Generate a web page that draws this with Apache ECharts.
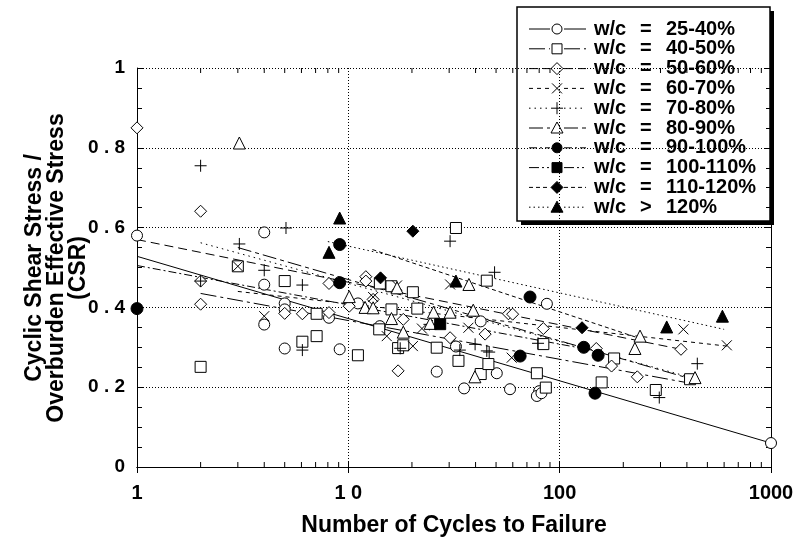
<!DOCTYPE html>
<html>
<head>
<meta charset="utf-8">
<script src="https://cdn.jsdelivr.net/npm/echarts@6/dist/echarts.min.js"></script>
<style>
html, body { margin: 0; padding: 0; background: #fff; }
#chart { width: 803px; height: 542px; }
</style>
</head>
<body>
<div id="chart"></div>
<script>
// tick labels
const xTicks = [1, 10, 100, 1000]
const xTickLabels = ['1', '1 0', '100', '1000']
const xMinorTicks = [2, 3, 4, 5, 6, 7, 8, 9, 20, 30, 40, 50, 60, 70, 80, 90, 200, 300, 400, 500, 600, 700, 800, 900]
const yTickLabels = ['0', '0 . 2', '0 . 4', '0 . 6', '0 . 8', '1']

// legend labels
const wcRanges = ['25-40%', '40-50%', '50-60%', '60-70%', '70-80%', '80-90%', '90-100%', '100-110%', '110-120%', '120%']

// [cycles, CSR]
const wc25 = [[1, 0.58], [4, 0.588], [4, 0.457], [4, 0.357], [5, 0.41], [5, 0.395], [5, 0.297], [8.1, 0.374], [9.1, 0.295],
  [11.1, 0.41], [14.1, 0.353], [26.2, 0.239], [32.3, 0.302], [35.3, 0.197], [42.3, 0.365], [50.4, 0.235], [58.2, 0.195],
  [80, 0.19], [78, 0.178], [82, 0.185], [87, 0.409], [1000, 0.06]]
const wc40 = [[2, 0.251], [3, 0.503], [5, 0.466], [6.06, 0.314], [7.08, 0.328], [7.08, 0.384], [11.1, 0.28], [14.1, 0.46],
  [14, 0.345], [16, 0.453], [16, 0.395], [17.2, 0.298], [18.2, 0.305], [20.2, 0.438], [21.2, 0.397], [26.2, 0.299],
  [32.3, 0.599], [33.2, 0.266], [42.3, 0.233], [45.2, 0.467], [46, 0.258], [78, 0.235], [83.7, 0.308], [86, 0.199],
  [158, 0.212], [181, 0.272], [285, 0.193], [414, 0.22]]
const wc50 = [[1, 0.85], [2, 0.641], [2, 0.466], [2, 0.408], [5, 0.385], [6.06, 0.384], [8.1, 0.387], [8.1, 0.46], [10.1, 0.403],
  [12.1, 0.477], [12.1, 0.466], [13.1, 0.42], [17.2, 0.241], [18.2, 0.37], [30.3, 0.324], [44.4, 0.333], [57.2, 0.384],
  [59.9, 0.383], [83.7, 0.347], [149, 0.297], [176, 0.253], [233, 0.226], [375, 0.295]]
const wc60 = [[3, 0.503], [4, 0.378], [13.1, 0.426], [15.2, 0.328], [17, 0.455], [20.2, 0.303], [22.3, 0.347], [30.3, 0.4575],
  [37, 0.349], [59.3, 0.274], [385, 0.345], [618, 0.305]]
const wc70 = [[2, 0.755], [2, 0.466], [3.05, 0.559], [4, 0.493], [5.07, 0.599], [6.06, 0.456], [6.06, 0.293], [17.6, 0.2975],
  [24.2, 0.3575], [30.3, 0.566], [33.7, 0.293], [39.8, 0.3075], [45.2, 0.291], [46.4, 0.288], [49.2, 0.488], [79, 0.31],
  [296, 0.174], [448, 0.259]]
const wc80 = [[3.05, 0.812], [10.1, 0.427], [12, 0.4], [13.1, 0.399], [16, 0.372], [17, 0.449], [18.2, 0.338], [24.4, 0.36],
  [25.3, 0.388], [30.3, 0.388], [37.2, 0.4575], [39, 0.393], [39.7, 0.226], [227, 0.297], [240, 0.328], [437, 0.224]]
const wc90 = [[1, 0.397], [9.1, 0.5575], [9.1, 0.462], [65, 0.278], [72.4, 0.426], [130, 0.3], [152, 0.28], [147, 0.185]]
const wc100 = [[27.2, 0.358]]
const wc110 = [[14.2, 0.474], [20.2, 0.591], [127.6, 0.349]]
const wc120 = [[8.1, 0.538], [9.1, 0.624], [32.3, 0.466], [321, 0.351], [589, 0.378]]

// trend lines, end points
const fit25 = [[1, 0.528], [1000, 0.06]]
const fit40 = [[2, 0.435], [414, 0.21]]
const fit50 = [[1, 0.57], [375, 0.295]]
const fit60 = [[3, 0.44], [618, 0.303]]
const fit70 = [[2, 0.562], [448, 0.22]]
const fit80 = [[3, 0.55], [437, 0.218]]
const fit90 = [[1, 0.505], [152, 0.29]]
const fit110 = [[13, 0.545], [240, 0.322]]
const fit120 = [[8, 0.565], [600, 0.345]]

const FONT = '"Liberation Sans", Arial, Helvetica, sans-serif'
const CROSS = 'path://M0,0L10,10M10,0L0,10'
const PLUS = 'path://M5,0L5,10M0,5L10,5'

const groups = [
  { data: wc25, fit: fit25, symbol: 'circle', filled: false, size: 11, dash: 'solid' },
  { data: wc40, fit: fit40, symbol: 'rect', filled: false, size: 11, dash: [16, 4, 3, 4] },
  { data: wc50, fit: fit50, symbol: 'diamond', filled: false, size: 12, dash: [9, 5] },
  { data: wc60, fit: fit60, symbol: CROSS, filled: false, size: 10, dash: [4, 4] },
  { data: wc70, fit: fit70, symbol: PLUS, filled: false, size: 12, dash: [1.5, 4] },
  { data: wc80, fit: fit80, symbol: 'triangle', filled: false, size: 12, dash: [14, 4, 4, 4] },
  { data: wc90, fit: fit90, symbol: 'circle', filled: true, size: 12, dash: [8, 3, 2, 3] },
  { data: wc100, fit: null, symbol: 'rect', filled: true, size: 11, dash: [10, 3, 2, 3, 2, 3] },
  { data: wc110, fit: fit110, symbol: 'diamond', filled: true, size: 12, dash: [4, 3] },
  { data: wc120, fit: fit120, symbol: 'triangle', filled: true, size: 12, dash: [1.5, 3] }
]

const chart = echarts.init(document.getElementById('chart'))

const series = []
groups.forEach((g, i) => {
  if (g.fit) {
    series.push({
      type: 'line',
      data: g.fit,
      symbol: 'none',
      silent: true,
      z: 2,
      lineStyle: { color: '#000', width: 1, type: g.dash }
    })
  }
  const isPath = g.symbol.indexOf('path://') === 0
  series.push({
    type: 'scatter',
    data: g.data,
    symbol: g.symbol,
    symbolSize: g.size,
    z: 3 + i,
    itemStyle: {
      color: isPath ? 'rgba(0,0,0,0)' : (g.filled ? '#000' : '#fff'),
      borderColor: '#000',
      borderWidth: 1,
      opacity: 1
    }
  })
})

// minor log ticks, bottom and top edges
series.push({
  type: 'custom',
  silent: true,
  z: 10,
  data: xMinorTicks.map(v => [v, 0]),
  renderItem: function (params, api) {
    const v = api.value(0)
    const b = api.coord([v, 0])
    const t = api.coord([v, 1])
    return {
      type: 'group',
      children: [
        { type: 'line', shape: { x1: b[0], y1: b[1], x2: b[0], y2: b[1] - 5 }, style: { stroke: '#000', lineWidth: 1 } },
        { type: 'line', shape: { x1: t[0], y1: t[1], x2: t[0], y2: t[1] + 5 }, style: { stroke: '#000', lineWidth: 1 } }
      ]
    }
  }
})

// legend built by hand
const legendItems = []
const LX = 517, LY = 7, LW = 253, LH = 214
legendItems.push({ type: 'rect', shape: { x: LX + 4, y: LY + 4, width: LW, height: LH }, style: { fill: '#000' } })
legendItems.push({ type: 'rect', shape: { x: LX, y: LY, width: LW, height: LH }, style: { fill: '#fff', stroke: '#000', lineWidth: 1.5 } })

function legendSymbol(g, cx, cy) {
  const fill = g.filled ? '#000' : '#fff'
  const st = { fill: fill, stroke: '#000', lineWidth: 1 }
  const s = g.symbol
  if (s === 'circle') return [{ type: 'circle', shape: { cx: cx, cy: cy, r: 5 }, style: st }]
  if (s === 'rect') return [{ type: 'rect', shape: { x: cx - 5, y: cy - 5, width: 10, height: 10 }, style: st }]
  if (s === 'diamond') return [{ type: 'polygon', shape: { points: [[cx, cy - 6], [cx + 6, cy], [cx, cy + 6], [cx - 6, cy]] }, style: st }]
  if (s === 'triangle') return [{ type: 'polygon', shape: { points: [[cx, cy - 6], [cx + 6, cy + 5], [cx - 6, cy + 5]] }, style: st }]
  if (s === CROSS) return [
    { type: 'line', shape: { x1: cx - 5, y1: cy - 5, x2: cx + 5, y2: cy + 5 }, style: { stroke: '#000', lineWidth: 1 } },
    { type: 'line', shape: { x1: cx + 5, y1: cy - 5, x2: cx - 5, y2: cy + 5 }, style: { stroke: '#000', lineWidth: 1 } }
  ]
  return [
    { type: 'line', shape: { x1: cx, y1: cy - 6, x2: cx, y2: cy + 6 }, style: { stroke: '#000', lineWidth: 1 } },
    { type: 'line', shape: { x1: cx - 6, y1: cy, x2: cx + 6, y2: cy }, style: { stroke: '#000', lineWidth: 1 } }
  ]
}

groups.forEach((g, i) => {
  const y = 29 + i * 19.8
  const cx = 557
  const dash = g.dash === 'solid' ? null : g.dash
  legendItems.push({ type: 'line', shape: { x1: 529, y1: y, x2: cx - 7, y2: y }, style: { stroke: '#000', lineWidth: 1, lineDash: dash } })
  legendItems.push({ type: 'line', shape: { x1: cx + 7, y1: y, x2: 586, y2: y }, style: { stroke: '#000', lineWidth: 1, lineDash: dash } })
  legendSymbol(g, cx, y).forEach(el => legendItems.push(el))
  const tf = 'bold 20px ' + FONT
  legendItems.push({ type: 'text', x: 594, y: y, style: { text: 'w/c', font: tf, fill: '#000', verticalAlign: 'middle' } })
  legendItems.push({ type: 'text', x: 640, y: y, style: { text: i === 9 ? '>' : '=', font: tf, fill: '#000', verticalAlign: 'middle' } })
  legendItems.push({ type: 'text', x: 666, y: y, style: { text: wcRanges[i], font: tf, fill: '#000', verticalAlign: 'middle' } })
})

const option = {
  animation: false,
  backgroundColor: '#fff',
  grid: { left: 137, right: 32, top: 68, bottom: 74 },
  xAxis: [
    {
      type: 'log',
      logBase: 10,
      min: 1,
      max: 1000,
      position: 'bottom',
      axisLine: { show: true, lineStyle: { color: '#000', width: 1 } },
      axisTick: { show: true, inside: true, length: 6, lineStyle: { color: '#000' } },
      axisLabel: {
        margin: 16,
        color: '#000',
        fontSize: 20,
        fontWeight: 'bold',
        fontFamily: FONT,
        formatter: function (v) {
          const k = xTicks.indexOf(Math.round(v))
          return k >= 0 ? xTickLabels[k] : ''
        }
      },
      splitLine: { show: true, lineStyle: { color: '#000', width: 1, type: [1, 2] } },
      name: 'Number of Cycles to Failure',
      nameLocation: 'middle',
      nameGap: 47,
      nameTextStyle: { color: '#000', fontSize: 23, fontWeight: 'bold', fontFamily: FONT }
    },
    {
      type: 'log',
      logBase: 10,
      min: 1,
      max: 1000,
      position: 'top',
      axisLine: { show: true, lineStyle: { color: '#000', width: 1 } },
      axisTick: { show: true, inside: true, length: 6, lineStyle: { color: '#000' } },
      axisLabel: { show: false },
      splitLine: { show: false }
    }
  ],
  yAxis: [
    {
      type: 'value',
      min: 0,
      max: 1,
      interval: 0.2,
      axisLine: { show: true, lineStyle: { color: '#000', width: 1 } },
      axisTick: { show: true, inside: true, length: 6, lineStyle: { color: '#000' } },
      minorTick: { show: true, splitNumber: 4, length: 5, lineStyle: { color: '#000' } },
      axisLabel: {
        margin: 12,
        color: '#000',
        fontSize: 19,
        fontWeight: 'bold',
        fontFamily: FONT,
        formatter: function (v) { return yTickLabels[Math.round(v * 5)] }
      },
      splitLine: { show: true, lineStyle: { color: '#000', width: 1, type: [1, 2] } }
    },
    {
      type: 'value',
      min: 0,
      max: 1,
      interval: 0.2,
      position: 'right',
      axisLine: { show: true, lineStyle: { color: '#000', width: 1 } },
      axisTick: { show: true, inside: true, length: 6, lineStyle: { color: '#000' } },
      minorTick: { show: true, splitNumber: 4, length: 5, lineStyle: { color: '#000' } },
      axisLabel: { show: false },
      splitLine: { show: false }
    }
  ],
  graphic: [
    {
      type: 'text',
      x: 57,
      y: 268,
      rotation: Math.PI / 2,
      z: 100,
      style: {
        text: 'Cyclic Shear Stress /\nOverburden Effective Stress\n(CSR)',
        font: 'bold 23px ' + FONT,
        fill: '#000',
        align: 'center',
        verticalAlign: 'middle',
        lineHeight: 22
      }
    },
    { type: 'group', z: 100, children: legendItems }
  ],
  series: series
}

chart.setOption(option)
</script>
</body>
</html>
